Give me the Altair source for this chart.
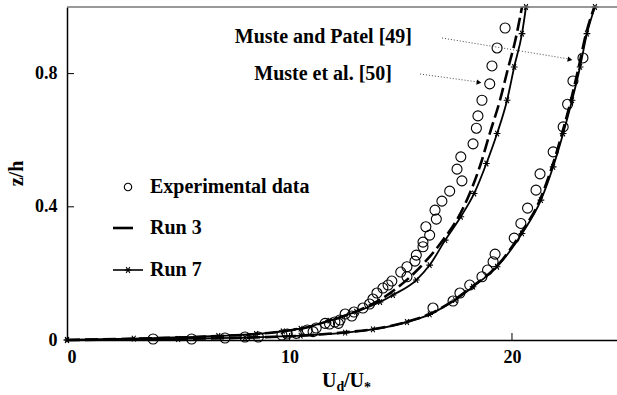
import altair as alt
import pandas as pd

FONT = "Liberation Serif"

# ---- Data ----
# Experimental data, Muste et al. [50] (left cluster)
exp50_u = [19.69, 19.33, 19.10, 19.00, 18.65, 18.47, 18.40, 18.25, 17.70, 17.53, 17.75, 17.20,
           16.85, 16.54, 16.60, 16.13, 16.30, 16.00, 16.00, 15.70, 15.64, 15.28, 15.00, 15.28,
           14.60, 14.43, 14.20, 13.93, 13.75, 13.60, 13.30, 12.90, 12.50, 12.80, 12.27, 12.04,
           11.80, 12.20, 11.60, 11.20, 10.80, 11.06, 10.30, 9.90, 9.66, 8.60, 8.00, 7.10, 5.60, 3.87]
exp50_z = [0.937, 0.877, 0.823, 0.769, 0.720, 0.673, 0.636, 0.589, 0.550, 0.513, 0.478, 0.447,
           0.417, 0.390, 0.363, 0.340, 0.315, 0.294, 0.280, 0.255, 0.237, 0.220, 0.204, 0.190,
           0.177, 0.165, 0.156, 0.141, 0.123, 0.108, 0.096, 0.084, 0.078, 0.072, 0.060, 0.054,
           0.048, 0.050, 0.050, 0.036, 0.030, 0.025, 0.020, 0.018, 0.015, 0.009, 0.009, 0.006, 0.003, 0.003]

# Experimental data, Muste and Patel [49] (right cluster)
exp49_u = [23.19, 22.74, 22.50, 22.30, 21.85, 21.26, 21.08, 20.70, 20.40, 20.10, 19.24, 19.15,
           18.90, 18.65, 18.10, 17.66, 17.35, 16.45]
exp49_z = [0.847, 0.778, 0.708, 0.640, 0.565, 0.499, 0.450, 0.396, 0.350, 0.306, 0.258, 0.235,
           0.210, 0.190, 0.165, 0.141, 0.117, 0.096]

# Run 3 (dashed) and Run 7 (asterisk) profiles for each case
run7_left_u = [0, 3.0, 6.8, 8.5, 9.7, 10.5, 11.8, 13.0, 14.07, 14.65, 15.7, 16.3, 17.0, 17.7,
               18.3, 18.85, 19.33, 19.78, 20.1, 20.45, 20.63]
run7_left_z = [0, 0.004, 0.012, 0.018, 0.026, 0.034, 0.058, 0.085, 0.114, 0.135, 0.18, 0.225,
               0.30, 0.37, 0.44, 0.53, 0.62, 0.72, 0.82, 0.92, 1.0]
run3_left_u = [0, 3.0, 6.8, 8.5, 9.7, 10.5, 11.8, 13.0, 14.0, 14.83, 16.1, 16.9, 17.6, 18.1,
               18.6, 19.0, 19.46, 19.8, 20.15, 20.45]
run3_left_z = [0, 0.004, 0.012, 0.018, 0.026, 0.034, 0.058, 0.086, 0.118, 0.156, 0.235, 0.30,
               0.37, 0.44, 0.53, 0.62, 0.72, 0.81, 0.90, 1.0]
run7_right_u = [0, 5.0, 8.0, 10.5, 12.5, 13.75, 15.28, 16.3, 17.44, 18.25, 19.33, 20.45, 21.3,
                21.85, 22.3, 22.7, 23.06, 23.37, 23.73]
run7_right_z = [0, 0.003, 0.007, 0.013, 0.022, 0.032, 0.054, 0.077, 0.12, 0.16, 0.22, 0.32, 0.42,
                0.52, 0.62, 0.72, 0.82, 0.92, 1.0]
run3_right_u = [0, 5.0, 8.0, 10.5, 12.5, 13.8, 15.3, 16.3, 17.4, 18.2, 19.3, 20.4, 21.25, 21.8,
                22.25, 22.65, 23.0, 23.33, 23.7]
run3_right_z = [0, 0.003, 0.007, 0.013, 0.023, 0.033, 0.055, 0.078, 0.12, 0.16, 0.22, 0.32, 0.42,
                0.52, 0.62, 0.72, 0.82, 0.92, 1.0]

x_ticks = [0, 10, 20]
y_ticks = [0, 0.4, 0.8]

# ---- Tables ----
exp_df = pd.DataFrame({"u": exp50_u + exp49_u, "z": exp50_z + exp49_z})


def profile(name, run, us, zs):
    return pd.DataFrame({"case": name, "run": run, "u": us, "z": zs, "idx": range(len(us))})


lines_df = pd.concat([
    profile("left", 7, run7_left_u, run7_left_z),
    profile("left", 3, run3_left_u, run3_left_z),
    profile("right", 7, run7_right_u, run7_right_z),
    profile("right", 3, run3_right_u, run3_right_z),
], ignore_index=True)

W, H = 550, 333
xs = alt.Scale(domain=[0, 24.72], nice=False, zero=False)
ys = alt.Scale(domain=[0, 1.0], nice=False, zero=False)

x_axis = alt.Axis(values=x_ticks, title=None, grid=False, ticks=False, labelFontSize=18,
                  labelFont=FONT, labelFontWeight="bold", labelColor="black", labelPadding=8,
                  domainColor="black", domainWidth=1.5)
y_axis = alt.Axis(values=y_ticks, title="z/h", grid=False, ticks=False, labelFontSize=18,
                  labelFont=FONT, labelFontWeight="bold", labelColor="black", labelPadding=10,
                  labelExpr="datum.value == 0 ? '0' : format(datum.value, '.1f')",
                  domainColor="black", domainWidth=1.5,
                  titleFont=FONT, titleFontSize=20, titleFontWeight="bold", titleColor="black",
                  titleX=-45, titleY=166, titleBaseline="alphabetic", titleAngle=-90)

ASTERISK = "M-1,0L1,0M-0.55,-0.85L0.55,0.85M-0.55,0.85L0.55,-0.85"

base_lines = alt.Chart(lines_df)

run3 = base_lines.transform_filter("datum.run == 3").mark_line(
    color="black", strokeWidth=2.6, strokeDash=[13, 5], interpolate="monotone"
).encode(
    x=alt.X("u:Q", scale=xs, axis=x_axis),
    y=alt.Y("z:Q", scale=ys, axis=y_axis),
    detail="case:N",
    order="idx:Q",
)

run7 = base_lines.transform_filter("datum.run == 7").mark_line(
    color="black", strokeWidth=1.8, interpolate="monotone"
).encode(x=alt.X("u:Q", scale=xs), y=alt.Y("z:Q", scale=ys), detail="case:N", order="idx:Q")

run7_pts = base_lines.transform_filter("datum.run == 7").mark_point(
    shape=ASTERISK, size=45, color="black", strokeWidth=1.1, filled=False, opacity=1
).encode(x=alt.X("u:Q", scale=xs), y=alt.Y("z:Q", scale=ys))

exp = alt.Chart(exp_df).mark_point(
    shape="circle", size=100, color="black", strokeWidth=1.1, filled=False, opacity=1
).encode(x=alt.X("u:Q", scale=xs), y=alt.Y("z:Q", scale=ys))

one = pd.DataFrame({"a": [0]})

# inward ticks
xtick_df = pd.DataFrame({"t": x_ticks[1:]})
ytick_df = pd.DataFrame({"t": y_ticks[1:]})
xticks = alt.Chart(xtick_df).mark_rule(color="black", strokeWidth=1).encode(
    x=alt.X("t:Q", scale=xs), y=alt.value(H), y2=alt.value(H - 7))
yticks = alt.Chart(ytick_df).mark_rule(color="black", strokeWidth=1).encode(
    y=alt.Y("t:Q", scale=ys), x=alt.value(0), x2=alt.value(7))

top_border = alt.Chart(one).mark_rule(color="#777777", strokeWidth=1.5).encode(
    x=alt.value(0), x2=alt.value(W), y=alt.value(0))


def txt(s, x, y, size=20, align="left", baseline="alphabetic"):
    return alt.Chart(one).mark_text(
        text=s, font=FONT, fontWeight="bold", fontSize=size, color="black",
        align=align, baseline=baseline
    ).encode(x=alt.value(x), y=alt.value(y))


# x-axis title U_d/U_*
xtitle = [
    txt("U", 255, 380),
    txt("d", 269.5, 384, size=14),
    txt("/U", 277, 380),
    txt("*", 297, 385, size=14),
]

# manual legend
leg_circle = alt.Chart(one).mark_point(shape="circle", size=55, color="black",
                                       strokeWidth=1.1, filled=False, opacity=1).encode(
    x=alt.value(61), y=alt.value(180))
leg_run3 = alt.Chart(one).mark_rule(color="black", strokeWidth=2.6).encode(
    x=alt.value(46), x2=alt.value(66), y=alt.value(221))
leg_run7 = alt.Chart(one).mark_rule(color="black", strokeWidth=1.6).encode(
    x=alt.value(46), x2=alt.value(76), y=alt.value(263))
leg_star = alt.Chart(one).mark_point(shape=ASTERISK, size=45, color="black",
                                     strokeWidth=1.1, filled=False, opacity=1).encode(
    x=alt.value(61), y=alt.value(263))
legend = [leg_circle, leg_run3, leg_run7, leg_star,
          txt("Experimental data", 83, 186), txt("Run 3", 83, 227), txt("Run 7", 83, 269)]

# annotations with dotted arrows
ann = [
    txt("Muste and Patel [49]", 345, 36, align="right"),
    txt("Muste et al. [50]", 325, 73, align="right"),
    alt.Chart(one).mark_rule(color="#333333", strokeWidth=0.9, strokeDash=[1, 2]).encode(
        x=alt.value(375), y=alt.value(31), x2=alt.value(502), y2=alt.value(52)),
    alt.Chart(one).mark_rule(color="#333333", strokeWidth=0.9, strokeDash=[1, 2]).encode(
        x=alt.value(353), y=alt.value(67), x2=alt.value(411), y2=alt.value(75)),
    alt.Chart(one).mark_point(shape="triangle-right", size=30, filled=True, color="black",
                              angle=9.5, opacity=1).encode(x=alt.value(503), y=alt.value(52.5)),
    alt.Chart(one).mark_point(shape="triangle-right", size=30, filled=True, color="black",
                              angle=8.3, opacity=1).encode(x=alt.value(412), y=alt.value(75.5)),
]

chart = alt.layer(
    run3, run7, run7_pts, exp, xticks, yticks, top_border, *xtitle, *legend, *ann
).properties(
    width=W, height=H,
    autosize=alt.AutoSizeParams(type="none"),
    padding={"left": 67, "top": 7, "right": 0, "bottom": 55},
    background="white",
).configure_view(stroke=None)

chart.save("out.html", embed_options={"renderer": "svg", "actions": False})
